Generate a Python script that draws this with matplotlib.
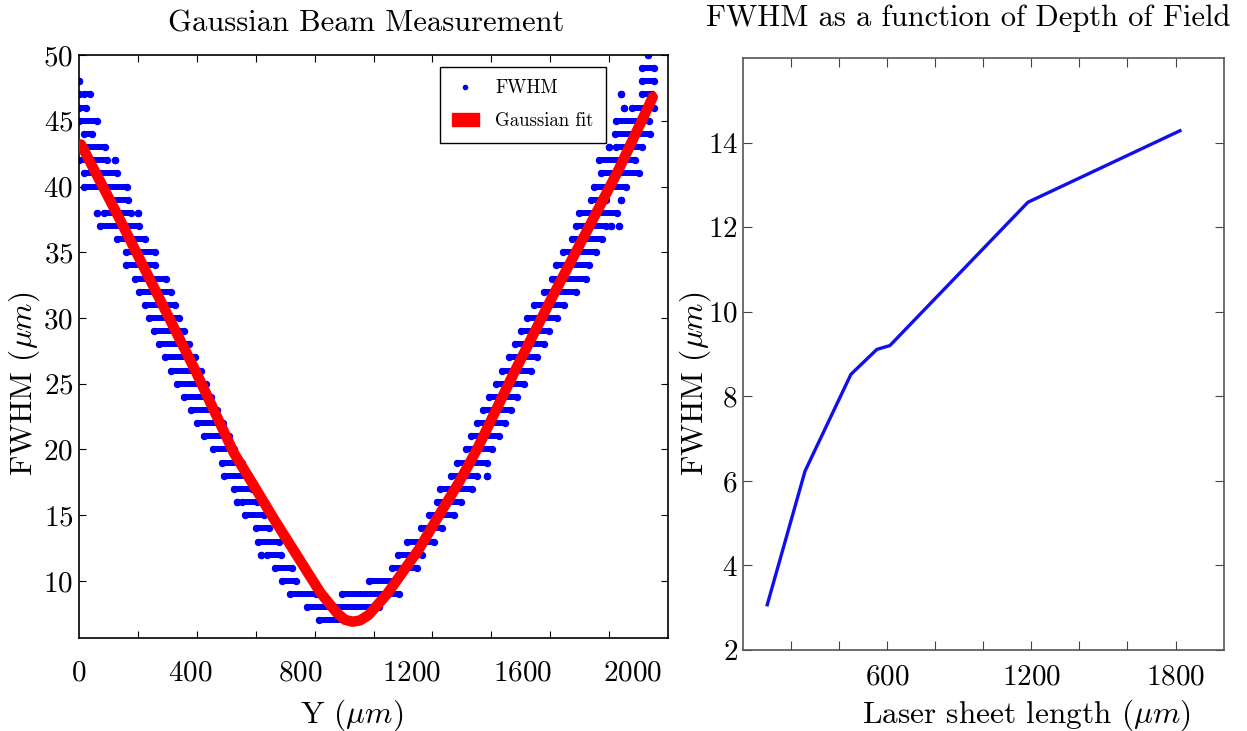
import numpy as np
import matplotlib
matplotlib.use("Agg")
import matplotlib.pyplot as plt
from matplotlib.lines import Line2D
from matplotlib.patches import Patch

plt.rcParams['font.family'] = 'serif'
plt.rcParams['font.serif'] = ['cmr10']
plt.rcParams['mathtext.fontset'] = 'cm'
plt.rcParams['axes.formatter.use_mathtext'] = True

# measured FWHM: runs of samples at each integer level (level, y_start, y_end)
fwhm_runs = [
    (48, 0, 0), (47, 0, 0), (47, 18, 38), (46, 0, 26), (45, 0, 64), (44, 18, 46),
    (43, 0, 94), (42, 0, 102), (42, 129, 129), (41, 18, 138), (40, 18, 174),
    (39, 108, 178), (38, 64, 64), (38, 90, 186), (38, 213, 213), (37, 76, 217),
    (36, 138, 238), (35, 169, 274), (34, 169, 274), (33, 202, 314), (32, 217, 332),
    (31, 238, 347), (30, 253, 361), (29, 271, 379), (28, 289, 397), (27, 310, 419),
    (26, 332, 440), (25, 354, 458), (24, 379, 477), (23, 404, 498), (22, 426, 520),
    (21, 451, 541), (20, 484, 560), (19, 516, 588), (18, 523, 614), (17, 560, 625),
    (16, 570, 570), (16, 588, 643), (15, 599, 668), (14, 639, 686), (13, 646, 722),
    (12, 657, 657), (12, 679, 729), (11, 708, 769), (10, 733, 783), (9, 762, 856),
    (8, 823, 1083), (7, 866, 1011),
    (9, 949, 1155), (10, 1047, 1144), (11, 1130, 1220), (12, 1152, 1238),
    (13, 1184, 1282), (14, 1235, 1310), (15, 1264, 1354), (16, 1292, 1379),
    (17, 1303, 1419), (18, 1343, 1437), (18, 1473, 1473), (19, 1365, 1473),
    (20, 1397, 1491), (21, 1415, 1516), (22, 1437, 1538), (23, 1458, 1560),
    (24, 1480, 1581), (25, 1505, 1606), (26, 1527, 1632), (27, 1552, 1653),
    (28, 1574, 1679), (29, 1596, 1697), (30, 1617, 1726), (31, 1643, 1751),
    (32, 1679, 1794), (33, 1708, 1830), (34, 1722, 1841), (35, 1747, 1866),
    (36, 1780, 1888), (37, 1794, 1902), (37, 1920, 1920), (37, 1949, 1949),
    (38, 1805, 1942), (39, 1848, 1902), (39, 1956, 1956), (40, 1859, 1975),
    (41, 1884, 2022), (42, 1877, 2007), (43, 1913, 1913), (43, 1938, 2032),
    (44, 1935, 2061), (45, 1938, 2058), (46, 1967, 1967), (46, 1996, 2076),
    (47, 1956, 1956), (47, 2032, 2069), (48, 2032, 2076), (49, 2032, 2076),
    (50, 2054, 2054),
]

# gaussian fit curve
fit_y = [7, 140, 271, 420, 560, 647, 704, 782, 872, 930, 960, 987, 1015, 1045,
         1112, 1227, 1300, 1372, 1437, 1570, 1709, 1841, 1949, 2072]
fit_w = [43.2, 37.8, 32.3, 26.0, 19.7, 16.7, 14.7, 12.1, 9.1, 7.6, 7.05, 6.9, 7.0, 7.4,
         9.0, 12.4, 15.0, 17.5, 20.0, 25.8, 31.6, 36.9, 41.3, 46.8]

# FWHM vs laser sheet length
sheet_len = [102, 259, 450, 558, 612, 1186, 1818]
sheet_fwhm = [3.07, 6.23, 8.52, 9.11, 9.2, 12.59, 14.28]

fig = plt.figure(figsize=(12.47, 7.31), dpi=100)
ax1 = fig.add_axes([0.0634, 0.1272, 0.4723, 0.7975])
ax2 = fig.add_axes([0.5956, 0.1108, 0.3857, 0.8098])

# left: Gaussian beam measurement
for lvl, a, b in fwhm_runs:
    ax1.plot([a, b], [lvl, lvl], color='blue', lw=4.3, marker='o', ms=4.3,
             solid_capstyle='round', zorder=2)
ax1.plot(fit_y, fit_w, color='red', lw=7.5, solid_joinstyle='round',
         solid_capstyle='round', zorder=3)

xmax1 = 2127
ax1.set_xlim(0, xmax1)
ax1.set_ylim(5.66, 50)
ax1.set_xticks([0, 400, 800, 1200, 1600, 2000])
ax1.set_xticks(np.linspace(0, xmax1, 11)[1:-1], minor=True)
ax1.set_yticks([10, 15, 20, 25, 30, 35, 40, 45, 50])
ax1.tick_params(axis='x', which='major', length=0, pad=16, labelsize=21)
ax1.tick_params(axis='x', which='minor', direction='in', length=5, width=0.8,
                top=True, bottom=True)
ax1.tick_params(axis='y', which='major', direction='in', length=5, width=0.8,
                left=True, right=True, labelsize=21, pad=4)
for s in ax1.spines.values():
    s.set_linewidth(1.2)
ax1.set_title('Gaussian Beam Measurement', fontsize=22, pad=17, x=0.487)
ax1.set_xlabel(r'Y $(\mu m)$', fontsize=22.5, labelpad=8, x=0.463)
ax1.set_ylabel(r'FWHM $(\mu m)$', fontsize=22.5, labelpad=1, y=0.436)

handles = [Line2D([], [], color='blue', marker='.', ls='none', ms=6),
           Patch(facecolor='red', edgecolor='red')]
leg = ax1.legend(handles, ['FWHM', 'Gaussian fit'], loc='upper left',
                 bbox_to_anchor=(0.613, 0.979), borderaxespad=0, fontsize=13.5,
                 fancybox=False, edgecolor='black', framealpha=1, borderpad=0.65,
                 labelspacing=0.8, handlelength=1.4, handletextpad=0.9)
leg.get_frame().set_linewidth(1.0)

# right: FWHM vs depth of field
ax2.plot(sheet_len, sheet_fwhm, color='#1010ee', lw=2.4)
ax2.set_xlim(0, 2000)
ax2.set_ylim(2, 16)
ax2.set_xticks([600, 1200, 1800])
ax2.set_xticks(np.arange(200, 2000, 200), minor=True)
ax2.set_yticks([2, 4, 6, 8, 10, 12, 14])
ax2.tick_params(axis='both', which='both', direction='in', length=6.5, width=0.8,
                color='#444444', top=True, right=True, labelsize=21)
ax2.tick_params(axis='x', which='major', pad=10)
for s in ax2.spines.values():
    s.set_linewidth(1.2)
    s.set_color('#555555')
ax2.set_title('FWHM as a function of Depth of Field', fontsize=22, pad=23, x=0.468)
ax2.set_xlabel(r'Laser sheet length $(\mu m)$', fontsize=22.5, labelpad=5, x=0.589)
ax2.set_ylabel(r'FWHM $(\mu m)$', fontsize=22.5, labelpad=-4, y=0.449)

fig.savefig('out.png', dpi=100)
